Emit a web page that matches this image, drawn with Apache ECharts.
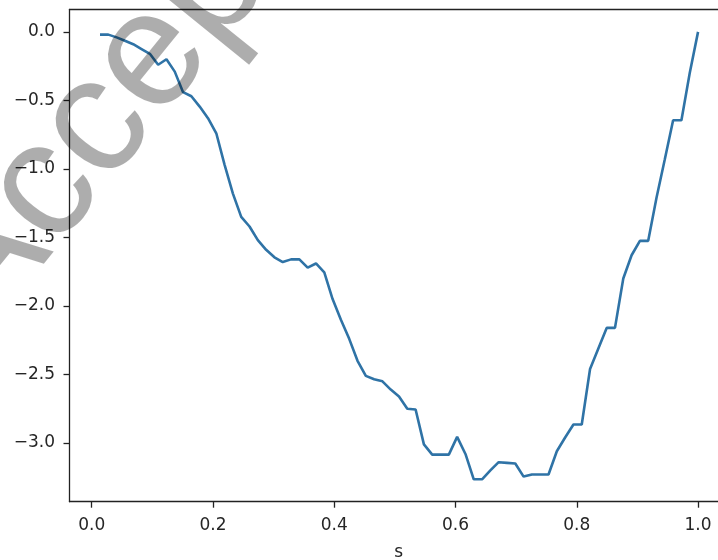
<!DOCTYPE html>
<html>
<head>
<meta charset="utf-8">
<script src="https://cdn.jsdelivr.net/npm/echarts@6/dist/echarts.min.js"></script>
<style>
html,body{margin:0;padding:0;background:#fff;overflow:hidden;width:718px;height:560px;}
#chart{width:760px;height:560px;}
</style>
</head>
<body>
<div id="chart"></div>
<script>
// ---- data ----
var sValues = [0.0137,0.0274,0.0411,0.0548,0.0685,0.0822,0.0959,0.1096,0.1233,0.1370,
  0.1507,0.1644,0.1781,0.1918,0.2055,0.2192,0.2329,0.2466,0.2603,0.2740,
  0.2877,0.3014,0.3151,0.3288,0.3425,0.3562,0.3699,0.3836,0.3973,0.4110,
  0.4247,0.4384,0.4521,0.4658,0.4795,0.4932,0.5068,0.5205,0.5342,0.5479,
  0.5616,0.5753,0.5890,0.6027,0.6164,0.6301,0.6438,0.6575,0.6712,0.6849,
  0.6986,0.7123,0.7260,0.7397,0.7534,0.7671,0.7808,0.7945,0.8082,0.8219,
  0.8356,0.8493,0.8630,0.8767,0.8904,0.9041,0.9178,0.9315,0.9452,0.9589,
  0.9726,0.9863,1.0000];
var yValues = [-0.02,-0.02,-0.04,-0.065,-0.09,-0.125,-0.16,-0.24,-0.20,-0.29,
  -0.44,-0.47,-0.545,-0.63,-0.74,-0.97,-1.18,-1.35,-1.42,-1.52,
  -1.59,-1.645,-1.68,-1.66,-1.66,-1.72,-1.69,-1.755,-1.95,-2.10,
  -2.24,-2.40,-2.51,-2.535,-2.55,-2.61,-2.66,-2.75,-2.755,-3.01,
  -3.085,-3.085,-3.085,-2.955,-3.08,-3.265,-3.265,-3.20,-3.14,-3.145,
  -3.15,-3.245,-3.23,-3.23,-3.23,-3.06,-2.96,-2.865,-2.865,-2.46,
  -2.31,-2.16,-2.16,-1.80,-1.63,-1.525,-1.525,-1.21,-0.93,-0.645,
  -0.645,-0.30,0.0];
var xTicks = [0.0,0.2,0.4,0.6,0.8,1.0];
var yTicks = [0.0,-0.5,-1.0,-1.5,-2.0,-2.5,-3.0];
var xName = 's';
var watermarkText = 'Accepted';

// ---- chart ----
var pts = sValues.map(function(x,i){return [x, yValues[i]];});
function fmt(v){ var s = Math.abs(v).toFixed(1); return (v < -1e-9 ? '\u2212' : '') + s; }
var tickFont = {fontFamily:'DejaVu Sans', fontSize:17, color:'#262626'};
function spine(){ return {show:true, onZero:false, lineStyle:{color:'#222', width:1.3}}; }
var chart = echarts.init(document.getElementById('chart'), null, {renderer:'canvas'});
chart.setOption({
  animation:false,
  backgroundColor:'#ffffff',
  grid:{left:69.5, top:9.5, width:658.5, height:492.2, show:false,
    containLabel:false, outerBoundsMode:'none'},
  xAxis:[{type:'value', min:-0.0366, max:1.0494, position:'bottom',
    name:xName, nameLocation:'middle', nameGap:42,
    nameTextStyle:{fontFamily:'DejaVu Sans', fontSize:17, color:'#262626'},
    axisLine:spine(),
    axisTick:{show:true, length:6, customValues:xTicks, lineStyle:{color:'#222', width:1.3}},
    axisLabel:Object.assign({margin:15, customValues:xTicks, formatter:function(v){return fmt(v);}}, tickFont),
    splitLine:{show:false}},
   {type:'value', min:-0.0366, max:1.0494, position:'top',
    axisLine:spine(), axisTick:{show:false}, axisLabel:{show:false}, splitLine:{show:false}}],
  yAxis:{type:'value', min:-3.4283, max:0.1633,
    axisLine:spine(),
    axisTick:{show:true, length:6, customValues:yTicks, lineStyle:{color:'#222', width:1.3}},
    axisLabel:Object.assign({margin:14.5, customValues:yTicks, formatter:function(v){return fmt(v);}}, tickFont),
    splitLine:{show:false}},
  series:[{type:'line', xAxisIndex:0, data:pts, showSymbol:false, symbol:'none', smooth:false,
    lineStyle:{color:'#2f73a6', width:2.6}, z:2}],
  graphic:[{type:'text', x:165.8, y:40.9, rotation:51*Math.PI/180, z:100, silent:true,
    style:{text:watermarkText, font:'165px "Liberation Sans"', fill:'rgba(0,0,0,0.32)',
      textAlign:'center', textVerticalAlign:'middle', align:'center', verticalAlign:'middle'}}]
});
</script>
</body>
</html>
